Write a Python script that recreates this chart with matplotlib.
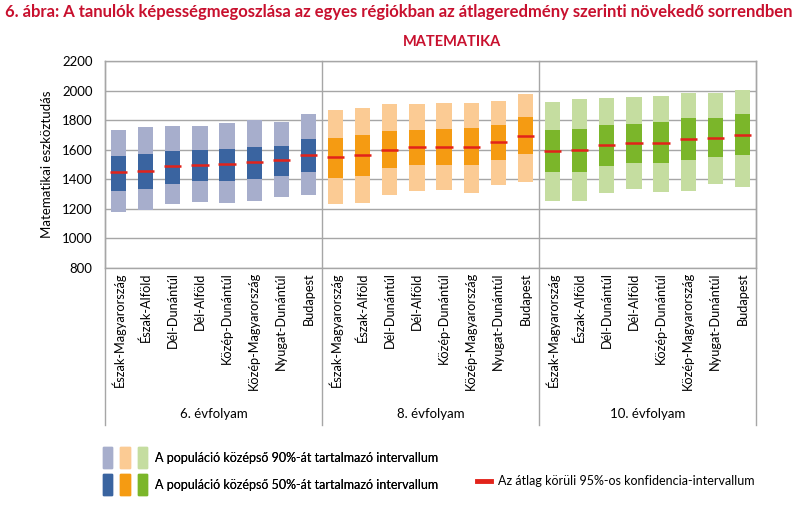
"""
Képességmegoszlás régiónként (matematika), 6., 8. és 10. évfolyam
"""
import matplotlib

matplotlib.use("Agg")
import matplotlib.pyplot as plt
import matplotlib.transforms as mtransforms
from matplotlib.legend_handler import HandlerTuple
from matplotlib.lines import Line2D
from matplotlib.patches import Patch
import numpy as np

plt.rcParams["font.family"] = ["Lato", "DejaVu Sans"]

regions = [
    "Észak-Magyarország",
    "Észak-Alföld",
    "Dél-Dunántúl",
    "Dél-Alföld",
    "Közép-Dunántúl",
    "Közép-Magyarország",
    "Nyugat-Dunántúl",
    "Budapest",
]
grades = ["6. évfolyam", "8. évfolyam", "10. évfolyam"]

# 5-95 percentile (light), 25-75 percentile (dark), mean -- per grade
p05_6 = [1176, 1192, 1230, 1246, 1241, 1250, 1279, 1291]
p25_6 = [1322, 1333, 1367, 1390, 1387, 1399, 1421, 1448]
mean_6 = [1446, 1459, 1487, 1498, 1502, 1514, 1529, 1561]
p75_6 = [1559, 1572, 1592, 1601, 1606, 1619, 1626, 1673]
p95_6 = [1734, 1754, 1761, 1761, 1781, 1799, 1790, 1844]

p05_8 = [1236, 1242, 1294, 1321, 1328, 1310, 1364, 1382]
p25_8 = [1411, 1423, 1475, 1497, 1497, 1497, 1531, 1574]
mean_8 = [1551, 1567, 1601, 1621, 1621, 1621, 1651, 1691]
p75_8 = [1682, 1700, 1727, 1736, 1743, 1747, 1768, 1820]
p95_8 = [1869, 1880, 1910, 1910, 1914, 1914, 1930, 1980]

p05_10 = [1251, 1251, 1310, 1333, 1317, 1324, 1366, 1350]
p25_10 = [1448, 1448, 1493, 1511, 1511, 1533, 1551, 1567]
mean_10 = [1594, 1601, 1630, 1648, 1648, 1670, 1679, 1702]
p75_10 = [1734, 1743, 1770, 1775, 1788, 1815, 1815, 1844]
p95_10 = [1923, 1941, 1953, 1957, 1964, 1984, 1984, 2005]

light_colors = ["#a7aecc", "#fbcb94", "#c5dda0"]
dark_colors = ["#3a64a0", "#f59b12", "#7bb62a"]
red = "#e2231a"
title_red = "#c8102e"
grid_gray = "#a6a6a6"

groups = [
    (p05_6, p25_6, mean_6, p75_6, p95_6),
    (p05_8, p25_8, mean_8, p75_8, p95_8),
    (p05_10, p25_10, mean_10, p75_10, p95_10),
]

W, H = 812, 507
fig = plt.figure(figsize=(W / 100, H / 100), dpi=100)
ax = fig.add_axes([105 / W, 1 - 268 / H, (756 - 105) / W, (268 - 61) / H])

n = len(regions)
for g, (lo, q1, mu, q3, hi) in enumerate(groups):
    x = np.arange(n) + g * n
    lo, q1, mu, q3, hi = map(np.array, (lo, q1, mu, q3, hi))
    ax.bar(x, hi - lo, bottom=lo, width=0.56, color=light_colors[g], zorder=2)
    ax.bar(x, q3 - q1, bottom=q1, width=0.56, color=dark_colors[g], zorder=3)
    ax.hlines(mu, x - 0.32, x + 0.32, color=red, lw=1.8, zorder=4)

ax.set_xlim(-0.5, 3 * n - 0.5)
ax.set_ylim(800, 2200)
ax.set_yticks(np.arange(800, 2201, 200))
ax.yaxis.grid(True, color=grid_gray, lw=1)
ax.set_axisbelow(True)
ax.tick_params(axis="y", length=0, pad=9, labelsize=9.5)
ax.set_xticks([])
for s in ax.spines.values():
    s.set_color(grid_gray)
    s.set_linewidth(1)

# table below the axis: region names, grade names and separators
trans = mtransforms.blended_transform_factory(ax.transData, ax.transAxes)
table_bottom = -(425 - 268) / (268 - 61)
for k in range(4):
    xs = k * n - 0.5
    ax.plot([xs, xs], [1, table_bottom], color=grid_gray, lw=1,
            transform=trans, clip_on=False, zorder=5)
for g, grade in enumerate(grades):
    for i, name in enumerate(regions):
        ax.text(g * n + i, -0.02, name, rotation=90, ha="center", va="top",
                fontsize=9.2, transform=trans)
    ax.text(g * n + (n - 1) / 2, -(414 - 268) / (268 - 61), grade,
            ha="center", va="center", fontsize=9.5, transform=trans)

fig.text(47 / W, 1 - 164 / H, "Matematikai eszköztudás", rotation=90,
         ha="center", va="center", fontsize=9.5)

fig.text(5 / W, 1 - 12 / H,
         "6. ábra: A tanulók képességmegoszlása az egyes régiókban az "
         "átlageredmény szerinti növekedő sorrendben",
         ha="left", va="center", fontsize=12, fontweight="bold",
         color=title_red)
fig.text(452 / W, 1 - 42 / H, "MATEMATIKA", ha="center", va="center",
         fontsize=10.5, fontweight="bold", color=title_red)

# legends
light_h = tuple(Patch(color=c) for c in light_colors)
dark_h = tuple(Patch(color=c) for c in dark_colors)
leg1 = fig.legend(
    [light_h, dark_h],
    ["A populáció középső 90%-át tartalmazó intervallum",
     "A populáció középső 50%-át tartalmazó intervallum"],
    handler_map={tuple: HandlerTuple(ndivide=None, pad=0.64)},
    loc="upper left", bbox_to_anchor=(103 / W, 1 - 447 / H),
    frameon=False, fontsize=9, handlelength=3.5, handleheight=2.25,
    handletextpad=0.65, labelspacing=0.45, borderpad=0, borderaxespad=0,
)
fig.legend(
    [Line2D([], [], color=red, lw=3.5)],
    ["Az átlag körüli 95%-os konfidencia-intervallum"],
    loc="center left", bbox_to_anchor=(477 / W, 1 - 481 / H),
    frameon=False, fontsize=9, handlelength=1.1, handletextpad=0.6,
    borderpad=0, borderaxespad=0,
)
fig.add_artist(leg1)

fig.savefig("out.png", dpi=100)
